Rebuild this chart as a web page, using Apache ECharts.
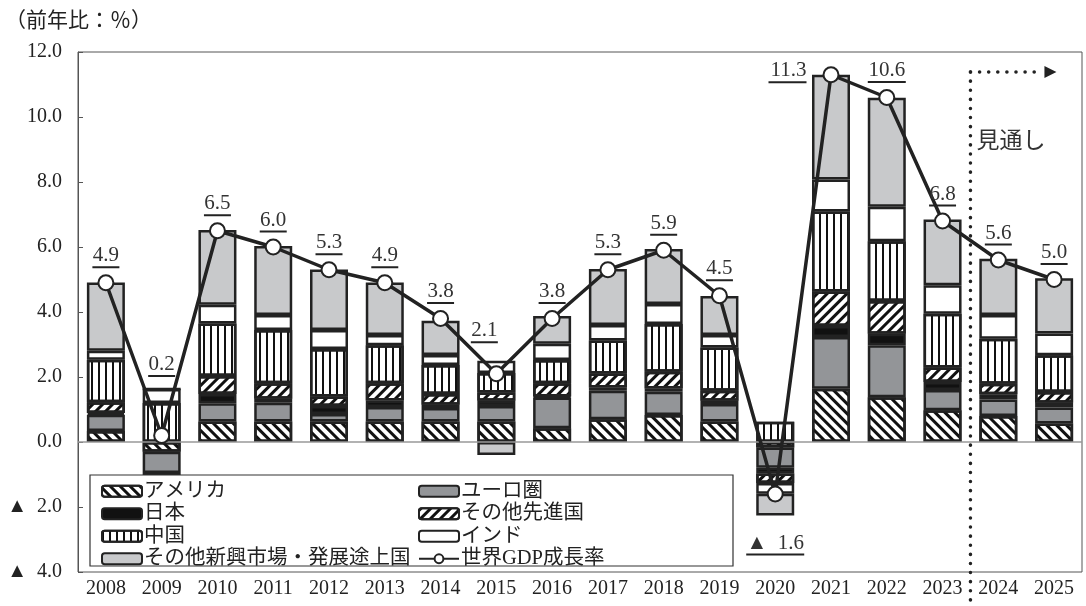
<!DOCTYPE html>
<html>
<head>
<meta charset="utf-8">
<style>
  html, body { width: 100%; height: 100%; margin: 0; background: #fff; }
  #chart-panel { width: 1086px; height: 606px; }
</style>
<script src="https://cdnjs.cloudflare.com/ajax/libs/echarts/6.0.0/echarts.min.js"></script>
</head>
<body>
<div id="chart-panel"></div>
<script type="text/javascript">
  var years = ['2008', '2009', '2010', '2011', '2012', '2013', '2014', '2015', '2016',
    '2017', '2018', '2019', '2020', '2021', '2022', '2023', '2024', '2025'];
  // contributions to world growth (pt)
  var usa      = [0.34, -0.30, 0.63, 0.63, 0.63, 0.63, 0.63, 0.63, 0.42, 0.70, 0.83, 0.63, -0.17, 1.64, 1.38, 0.98, 0.80, 0.57];
  var euro     = [0.50, -0.65, 0.56, 0.58, 0.23, 0.45, 0.42, 0.48, 0.95, 0.88, 0.72, 0.54, -0.62, 1.59, 1.60, 0.62, 0.51, 0.49];
  var japan    = [0.05, -0.25, 0.29, 0.12, 0.25, 0.20, 0.10, 0.16, 0.03, 0.10, 0.10, 0.10, -0.18, 0.34, 0.35, 0.25, 0.16, 0.15];
  var otherAdv = [0.33, -0.23, 0.55, 0.48, 0.29, 0.53, 0.33, 0.25, 0.41, 0.43, 0.51, 0.31, -0.29, 1.06, 1.01, 0.44, 0.32, 0.33];
  var china    = [1.31, 1.20, 1.62, 1.64, 1.46, 1.17, 0.89, 0.60, 0.71, 1.01, 1.47, 1.33, 0.62, 2.46, 1.84, 1.66, 1.39, 1.13];
  var india    = [0.28, 0.43, 0.57, 0.46, 0.59, 0.31, 0.31, 0.38, 0.50, 0.48, 0.62, 0.38, -0.33, 0.99, 1.06, 0.87, 0.73, 0.67];
  var otherEm  = [2.10, 0.00, 2.30, 2.12, 1.86, 1.62, 1.05, -0.40, 0.86, 1.72, 1.69, 1.20, -0.67, 3.22, 3.35, 2.03, 1.73, 1.70];
  var world    = [4.9, 0.2, 6.5, 6.0, 5.3, 4.9, 3.8, 2.1, 3.8, 5.3, 5.9, 4.5, -1.6, 11.3, 10.6, 6.8, 5.6, 5.0];

  var FONT = "'Liberation Serif', 'Noto Sans CJK JP', serif";
  var chart = echarts.init(document.getElementById('chart-panel'));

  function stripes(rot, dashY) {
    return { symbol: 'rect', symbolSize: 1, color: '#111', dashArrayX: [1, 0], dashArrayY: dashY, rotation: rot };
  }

  function barSeries(name, data, color, decal) {
    var s = {
      name: name,
      type: 'bar',
      stack: 'total',
      data: data,
      barWidth: 38,
      itemStyle: { color: color, borderColor: '#222', borderWidth: 2.5 }
    };
    if (decal) s.itemStyle.decal = decal;
    return s;
  }

  var series = [
    barSeries('アメリカ', usa, '#fff', stripes(Math.PI / 4, [3, 4])),
    barSeries('ユーロ圏', euro, '#939598'),
    barSeries('日本', japan, '#111'),
    barSeries('その他先進国', otherAdv, '#fff', stripes(-Math.PI / 4, [3, 4])),
    barSeries('中国', china, '#fff', { symbol: 'rect', symbolSize: 1, color: '#111', dashArrayX: [2, 5], dashArrayY: [1, 0] }),
    barSeries('インド', india, '#fff'),
    barSeries('その他新興市場・発展途上国', otherEm, '#c8c9cb')
  ];
  series[0].markLine = {
    silent: true,
    symbol: 'none',
    label: { show: false },
    lineStyle: { color: '#999', type: 'solid', width: 1.5 },
    data: [{ yAxis: 0 }]
  };

  var labelOverrides = {
    1: { distance: 50 },
    7: { distance: 22, offset: [-12, 0] },
    12: { position: 'bottom', distance: 30 },
    13: { position: 'left', distance: 16, offset: [0, -3] }
  };

  series.push({
    name: '世界GDP成長率',
    type: 'line',
    z: 10,
    data: world.map(function (v, i) {
      return labelOverrides[i] ? { value: v, label: labelOverrides[i] } : v;
    }),
    symbol: 'circle',
    symbolSize: 15,
    lineStyle: { color: '#222', width: 3.5 },
    itemStyle: { color: '#fff', borderColor: '#222', borderWidth: 2 },
    label: {
      show: true,
      position: 'top',
      distance: 6,
      formatter: function (p) {
        var v = p.value;
        var s = v < 0 ? '▲  ' + Math.abs(v).toFixed(1) : v.toFixed(1);
        var u = s.length >= 5 ? 'u5' : (s.length === 4 ? 'u4' : 'u3');
        return '{v|' + s + '}\n{' + u + '|}';
      },
      rich: {
        v: { fontSize: 21, fontFamily: FONT, color: '#333', lineHeight: 21 },
        u3: { width: 27, height: 2, backgroundColor: '#222' },
        u4: { width: 38, height: 2, backgroundColor: '#222' },
        u5: { width: 58, height: 2, backgroundColor: '#222' }
      }
    }
  });

  var legendBase = {
    orient: 'vertical',
    top: 476,
    itemWidth: 40,
    itemHeight: 11,
    itemGap: 2,
    selectedMode: false,
    z: 20,
    textStyle: { fontSize: 20.5, fontFamily: FONT, color: '#222', padding: [0, 0, 0, -3] }
  };

  var option = {
    animation: false,
    title: {
      text: '（前年比：％）',
      left: 0,
      top: 6,
      textStyle: { fontSize: 21, fontWeight: 'normal', fontFamily: FONT, color: '#222' }
    },
    grid: {
      left: 78, right: 4, top: 52, bottom: 34,
      show: true, borderColor: '#555', borderWidth: 1
    },
    legend: [
      Object.assign({}, legendBase, { left: 96, data: ['アメリカ', '日本', '中国', 'その他新興市場・発展途上国'] }),
      Object.assign({}, legendBase, { left: 413, data: ['ユーロ圏', 'その他先進国', 'インド', '世界GDP成長率'] })
    ],
    xAxis: {
      type: 'category',
      data: years,
      axisLine: { show: false },
      axisTick: { show: false },
      axisLabel: { fontSize: 20, fontFamily: FONT, color: '#222', margin: 7 }
    },
    yAxis: {
      type: 'value',
      min: -4,
      max: 12,
      interval: 2,
      axisLine: { show: true, lineStyle: { color: '#555' } },
      axisTick: { show: true, inside: true, length: 5, lineStyle: { color: '#555' } },
      splitLine: { show: false },
      axisLabel: {
        fontSize: 20, fontFamily: FONT, color: '#222', margin: 16,
        formatter: function (v) {
          return v < 0 ? '▲  ' + Math.abs(v).toFixed(1) : v.toFixed(1);
        }
      }
    },
    series: series
  };

  chart.setOption(option);

  // forecast marker between 2023 and 2024
  var xa = chart.convertToPixel({ xAxisIndex: 0 }, '2023');
  var xb = chart.convertToPixel({ xAxisIndex: 0 }, '2024');
  var xm = (xa + xb) / 2;
  var dots = { stroke: '#222', lineWidth: 3.5, lineCap: 'round', lineDash: [0.1, 9] };
  chart.setOption({
    graphic: [
      {
        type: 'rect', z: 10, silent: true,
        shape: { x: 90, y: 475, width: 643, height: 91 },
        style: { fill: '#fff', stroke: '#333', lineWidth: 1.2 }
      },
      { type: 'line', z: 12, silent: true, shape: { x1: xm, y1: 72, x2: xm, y2: 600 }, style: dots },
      { type: 'line', z: 12, silent: true, shape: { x1: xm, y1: 72, x2: xm + 72, y2: 72 }, style: dots },
      {
        type: 'polygon', z: 12, silent: true,
        shape: { points: [[xm + 74, 66], [xm + 86, 72], [xm + 74, 78]] },
        style: { fill: '#222' }
      },
      {
        type: 'text', z: 12, silent: true, x: xm + 6, y: 130,
        style: { text: '見通し', fontSize: 23, fontFamily: FONT, fill: '#333' }
      }
    ]
  });
</script>
</body>
</html>
